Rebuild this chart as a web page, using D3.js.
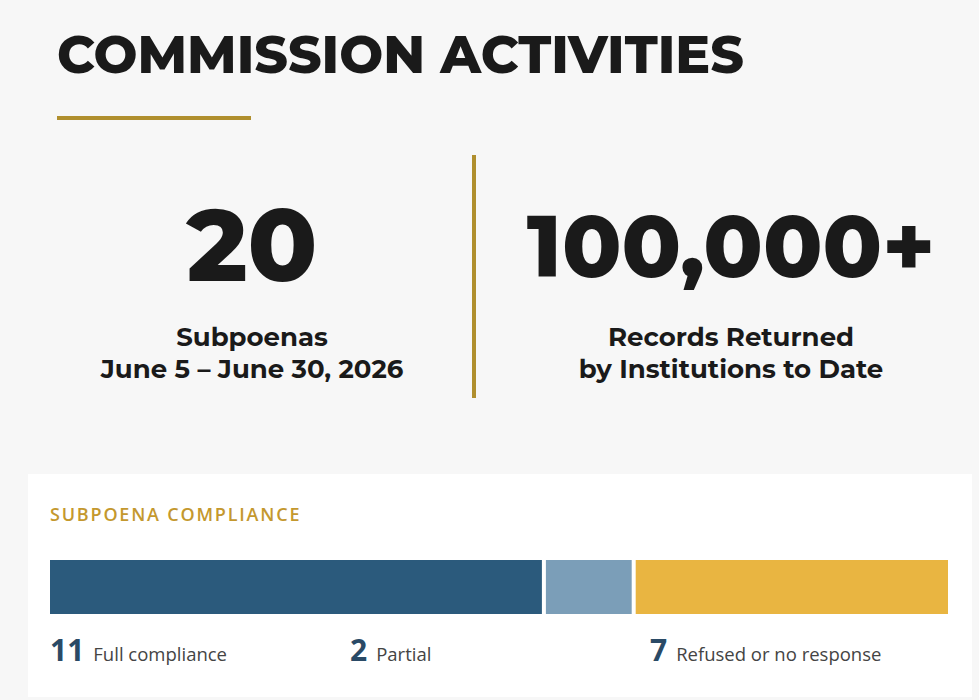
<!DOCTYPE html><html><head><meta charset="utf-8">
<script src="https://cdn.jsdelivr.net/npm/d3@7"></script>
<style>body{margin:0;background:#f7f7f7}</style></head><body><svg id="c" width="979" height="700"></svg>
<script>
const categories=["Full compliance","Partial","Refused or no response"];
const counts=[11,2,7];
const colors=["#2b5a7c","#7b9eb8","#e9b541"];
const stats=[{value:"20",lines:["Subpoenas","June 5 – June 30, 2026"]},{value:"100,000+",lines:["Records Returned","by Institutions to Date"]}];

const svg=d3.select("#c");
const F="Montserrat, Inter, 'Open Sans', sans-serif";
svg.append("rect").attr("width",979).attr("height",700).attr("fill","#f7f7f7");
svg.append("text").attr("x",57).attr("y",73).attr("font-family",F).attr("font-weight",800).attr("font-size",52).attr("fill","#1a1a1a").text("COMMISSION ACTIVITIES");
svg.append("rect").attr("x",57).attr("y",116).attr("width",194).attr("height",4).attr("fill","#b08f2e");
svg.append("rect").attr("x",472).attr("y",155).attr("width",4).attr("height",243).attr("fill","#b08f2e");
const cx=[252,731], vs=[102,87];
stats.forEach((s,i)=>{
  svg.append("text").attr("x",cx[i]).attr("y",i?277:281).attr("text-anchor","middle").attr("font-family",F).attr("font-weight",800).attr("font-size",vs[i]).attr("fill","#1a1a1a").text(s.value);
  s.lines.forEach((l,j)=>svg.append("text").attr("x",cx[i]).attr("y",346+j*32).attr("text-anchor","middle").attr("font-family",F).attr("font-weight",700).attr("font-size",26).attr("fill","#1a1a1a").text(l));
});
svg.append("rect").attr("x",28).attr("y",474).attr("width",944).attr("height",223).attr("fill","#fff");
svg.append("text").attr("x",50).attr("y",521).attr("font-family","'Open Sans', sans-serif").attr("font-weight",600).attr("font-size",18).attr("letter-spacing",1.8).attr("fill","#c4982e").text("SUBPOENA COMPLIANCE");
const total=d3.sum(counts);
const x=d3.scaleLinear().domain([0,total]).range([50,948]);
let cum=[0];counts.forEach(c=>cum.push(cum[cum.length-1]+c));
const gap=4;
svg.selectAll("rect.seg").data(counts).join("rect").attr("class","seg")
 .attr("x",(d,i)=>x(cum[i])+(i>0?gap/2:0))
 .attr("width",(d,i)=>x(cum[i+1])-x(cum[i])-(i>0&&i<counts.length-1?gap:gap/2))
 .attr("y",560).attr("height",54).attr("fill",(d,i)=>colors[i]);
const lx=d3.scaleBand().domain(categories).range([50,950]);
categories.forEach((c,i)=>{
  const t=svg.append("text").attr("x",lx(c)).attr("y",661).attr("font-family","'Open Sans', sans-serif");
  t.append("tspan").attr("font-weight",700).attr("font-size",30).attr("fill","#2a4a66").text(counts[i]);
  t.append("tspan").attr("dx",9).attr("font-size",18.5).attr("fill","#444").text(c);
});
</script></body></html>
